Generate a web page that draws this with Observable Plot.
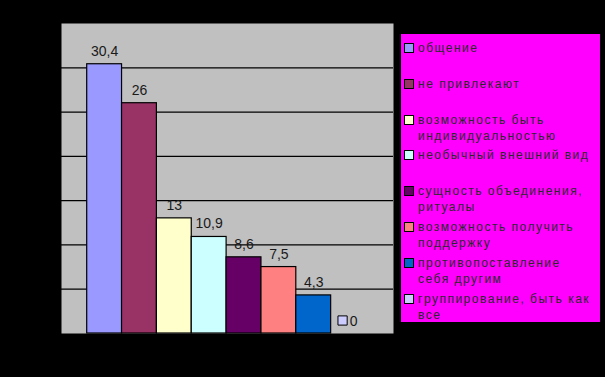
<!DOCTYPE html>
<html>
<head>
<meta charset="utf-8">
<script src="https://cdn.jsdelivr.net/npm/d3@7"></script>
<script src="https://cdn.jsdelivr.net/npm/@observablehq/plot@0.6"></script>
<style>
  html, body { margin: 0; padding: 0; background: #000; }
  #wrap { position: relative; width: 605px; height: 377px; background: #000; overflow: hidden; }
  #legend { position: absolute; left: 401px; top: 34px; width: 199px; height: 288px; background: #ff00ff; padding-top: 6px; box-sizing: border-box; }
  .item { display: flex; align-items: flex-start; height: 35.8px; font-family: "Liberation Sans", Arial, sans-serif; font-size: 12px; line-height: 16px; color: #2a2a2a; letter-spacing: 1.5px; }
  .sw { width: 8px; height: 8px; border: 1px solid #000; margin: 3px 4px 0 3px; flex: none; }
  .lbl { width: 176px; }
  svg text.vlab { letter-spacing: 1px; }
</style>
</head>
<body>
<div id="wrap"></div>
<script>
const categories = [
  "общение",
  "не привлекают",
  "возможность быть индивидуальностью",
  "необычный внешний вид",
  "сущность объединения, ритуалы",
  "возможность получить поддержку",
  "противопоставление себя другим",
  "группирование, быть как все"
];
const values = [30.4, 26, 13, 10.9, 8.6, 7.5, 4.3, 0];
const colors = ["#9999ff", "#993366", "#ffffcc", "#ccffff", "#660066", "#ff8080", "#0066cc", "#ccccff"];
const yTicks = [0, 5, 10, 15, 20, 25, 30, 35];

const data = categories.map((c, i) => ({cat: c, value: values[i], color: colors[i], label: String(values[i]).replace(".", ",")}));

const chart = Plot.plot({
  width: 605,
  height: 377,
  marginLeft: 61,
  marginRight: 212,
  marginTop: 23,
  marginBottom: 44,
  style: {background: "transparent", fontFamily: "Liberation Sans, Arial, sans-serif"},
  x: {domain: categories, range: [86.7, 365.5], padding: 0, round: false, axis: null},
  y: {domain: [0, 35], axis: null},
  marks: [
    Plot.frame({fill: "#c0c0c0", stroke: null}),
    Plot.ruleY(yTicks.slice(1, -1), {stroke: "#000", strokeWidth: 1.2}),
    Plot.barY(data, {x: "cat", y: "value", fill: "color", stroke: "#000", strokeWidth: 1.2, insetLeft: 0, insetRight: 0}),
    Plot.text(data.filter(d => d.value > 0), {x: "cat", y: "value", text: "label", dy: -13, fontSize: 14, fill: "#1a1a1a", className: "vlab"}),
    Plot.dot(data.filter(d => d.value === 0), {x: "cat", y: "value", symbol: "square", r: 5.2, fill: "color", stroke: "#000", strokeWidth: 1, dx: -6, dy: -13}),
    Plot.text(data.filter(d => d.value === 0), {x: "cat", y: "value", text: "label", dx: 5, dy: -12, fontSize: 14, fill: "#1a1a1a", className: "vlab"})
  ]
});

const wrap = document.getElementById("wrap");
wrap.appendChild(chart);
const svg = wrap.querySelector("svg");
svg.style.position = "absolute";
svg.style.left = "0px";
svg.style.top = "0px";

const legend = document.createElement("div");
legend.id = "legend";
data.forEach(d => {
  const it = document.createElement("div");
  it.className = "item";
  const sw = document.createElement("span");
  sw.className = "sw";
  sw.style.background = d.color;
  const lb = document.createElement("span");
  lb.className = "lbl";
  lb.textContent = d.cat;
  it.appendChild(sw);
  it.appendChild(lb);
  legend.appendChild(it);
});
wrap.appendChild(legend);
</script>
</body>
</html>
